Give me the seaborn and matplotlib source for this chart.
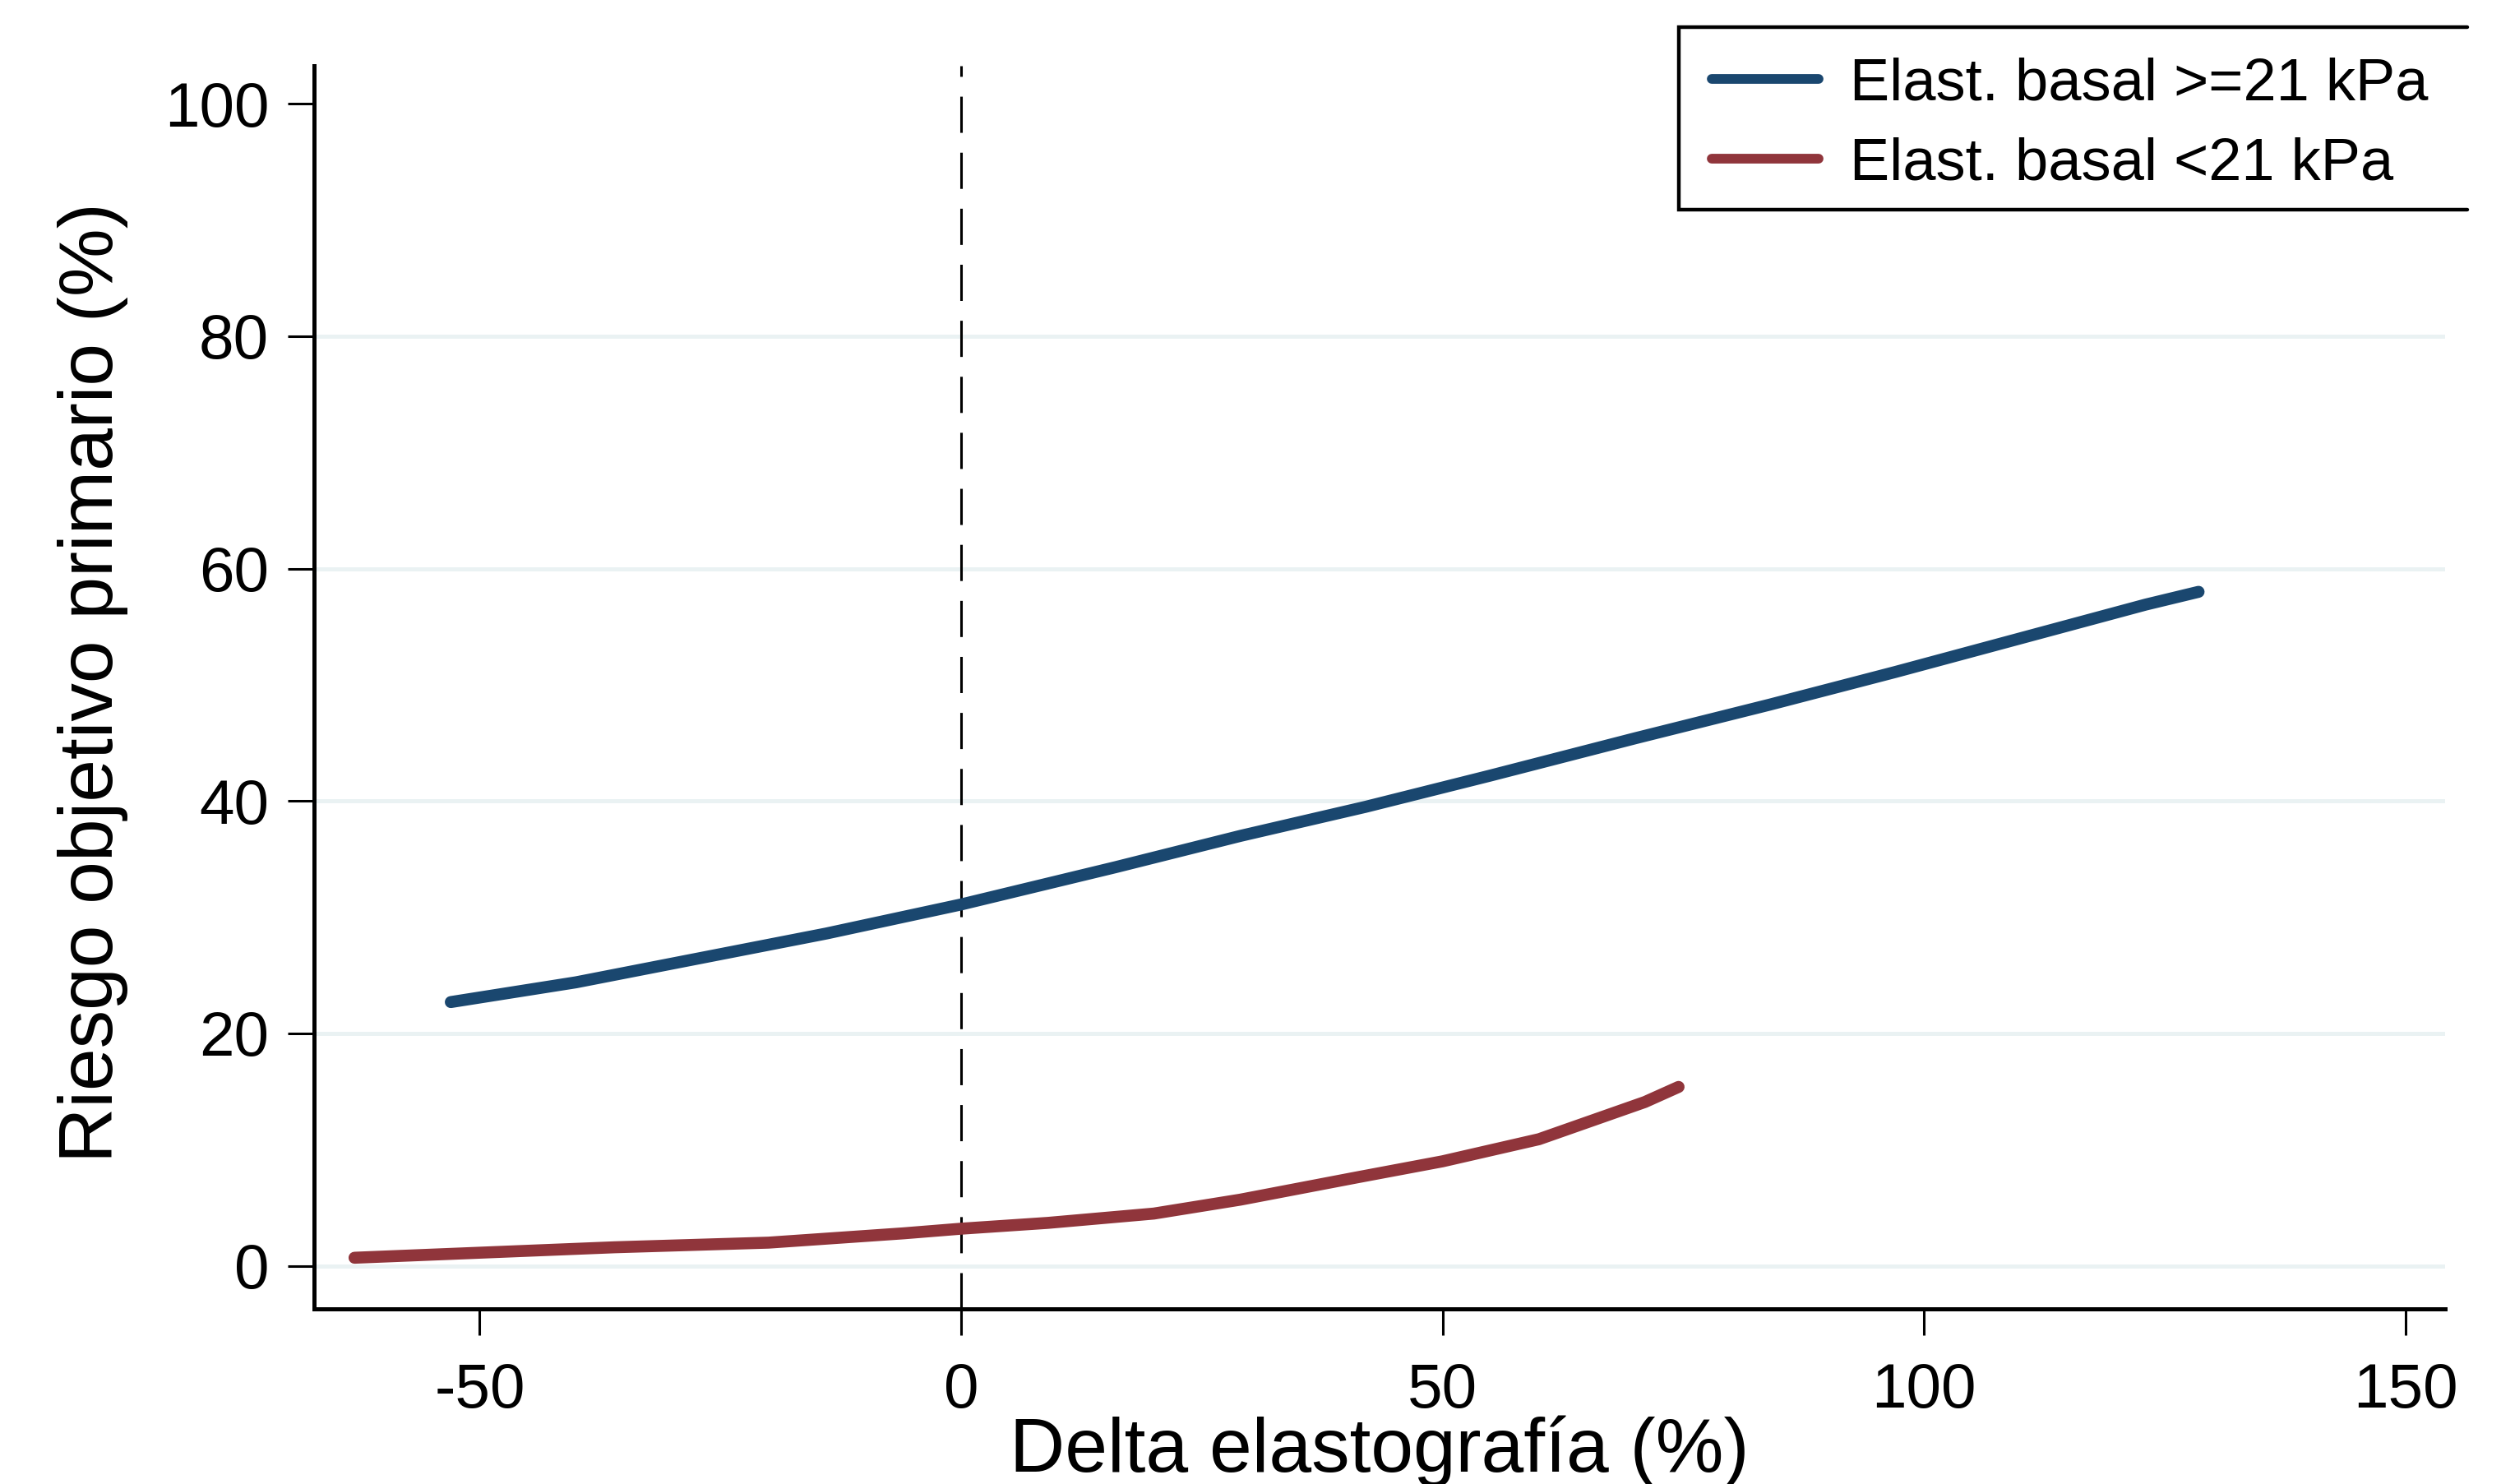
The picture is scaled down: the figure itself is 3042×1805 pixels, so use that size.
import numpy as np
import pandas as pd
import matplotlib
matplotlib.use("Agg")
import matplotlib.pyplot as plt
from matplotlib.lines import Line2D
import seaborn as sns

# ---- data ----
blue_x = [-53, -40, -27, -14, 0, 10, 16, 29, 42, 55, 70, 84, 97, 110, 123, 128.5]
blue_y = [22.7, 24.4, 26.5, 28.6, 31.1, 33.1, 34.3, 37.0, 39.5, 42.2, 45.4, 48.3, 51.1, 54.0, 56.9, 58.0]
red_x = [-63, -51, -36, -20, -13, -6, 0, 9, 20, 29, 41, 50, 60, 71, 74.5]
red_y = [0.7, 1.1, 1.6, 2.0, 2.4, 2.8, 3.2, 3.7, 4.5, 5.7, 7.6, 9.0, 10.9, 14.1, 15.4]
labels = ["Elast. basal >=21 kPa", "Elast. basal <21 kPa"]
x_ticks = [-50, 0, 50, 100, 150]
y_ticks = [0, 20, 40, 60, 80, 100]
grid_vals = [0, 20, 40, 60, 80]
x_label = "Delta elastografía (%)"
y_label = "Riesgo objetivo primario (%)"

NAVY = "#1A476F"
MAROON = "#90353B"
GRID = "#EAF2F3"

sns.set_style("white")
plt.rcParams["font.family"] = ["Liberation Sans", "DejaVu Sans"]
plt.rcParams["axes.unicode_minus"] = False
plt.rcParams["text.color"] = "black"
plt.rcParams["axes.labelcolor"] = "black"
plt.rcParams["xtick.color"] = "black"
plt.rcParams["ytick.color"] = "black"

W, H = 3042, 1805
fig = plt.figure(figsize=(W / 100, H / 100), dpi=100)
ax_left, ax_right, ax_top, ax_bot = 382, 2974, 79.5, 1592
ax = fig.add_axes([ax_left / W, (H - ax_bot) / H, (ax_right - ax_left) / W, (ax_bot - ax_top) / H])

df = pd.concat([
    pd.DataFrame({"x": blue_x, "y": blue_y, "g": labels[0]}),
    pd.DataFrame({"x": red_x, "y": red_y, "g": labels[1]}),
])
sns.lineplot(data=df, x="x", y="y", hue="g", palette=[NAVY, MAROON],
             linewidth=10.5, sort=False, legend=False, ax=ax, zorder=3)

ax.set_xlim(-67.2, 154.1)
ax.set_ylim(-3.7, 103.3)

# gridlines
for g in grid_vals:
    ax.axhline(g, color=GRID, lw=3.6, zorder=0)

# reference line at 0
ax.axvline(0, color="black", lw=2.2, dashes=(14.4, 7.9), zorder=2)

ax.set_xticks(x_ticks)
ax.set_yticks(y_ticks)
ax.tick_params(axis="both", direction="out", length=23, width=2.2, color="black",
               labelcolor="black", bottom=True, left=True)
ax.tick_params(axis="x", labelsize=55, pad=24)
ax.tick_params(axis="y", labelsize=55, pad=16.5)

for s in ["top", "right"]:
    ax.spines[s].set_visible(False)
for s in ["left", "bottom"]:
    ax.spines[s].set_linewidth(3.6)
    ax.spines[s].set_color("black")

ax.set_xlabel(x_label, fontsize=67, va="baseline", color="black")
ax.xaxis.set_label_coords(0.5, (H - 1790 - (H - ax_bot)) / (ax_bot - ax_top))
ax.set_ylabel(y_label, fontsize=67, va="baseline", color="black")
ax.yaxis.set_label_coords((137 - ax_left) / (ax_right - ax_left),
                          (H - 830 - (H - ax_bot)) / (ax_bot - ax_top))

# legend
handles = [Line2D([], [], color=NAVY, lw=8.5), Line2D([], [], color=MAROON, lw=8.5)]
leg = ax.legend(handles, labels, loc="upper left",
                bbox_to_anchor=(2082 / W, 1 - 69 / H), bbox_transform=fig.transFigure,
                frameon=False, fontsize=52, borderpad=0, borderaxespad=0,
                handlelength=1.8, handletextpad=0.53, labelspacing=0.42)
for t in leg.get_texts():
    t.set_color("black")
# legend box (left, top, bottom edges)
box = Line2D([3001 / W, 2042 / W, 2042 / W, 3001 / W],
             [1 - 33 / H, 1 - 33 / H, 1 - 255 / H, 1 - 255 / H],
             transform=fig.transFigure, color="black", lw=3.2,
             solid_joinstyle="miter")
fig.add_artist(box)

fig.savefig("out.png", dpi=100, facecolor="white")
